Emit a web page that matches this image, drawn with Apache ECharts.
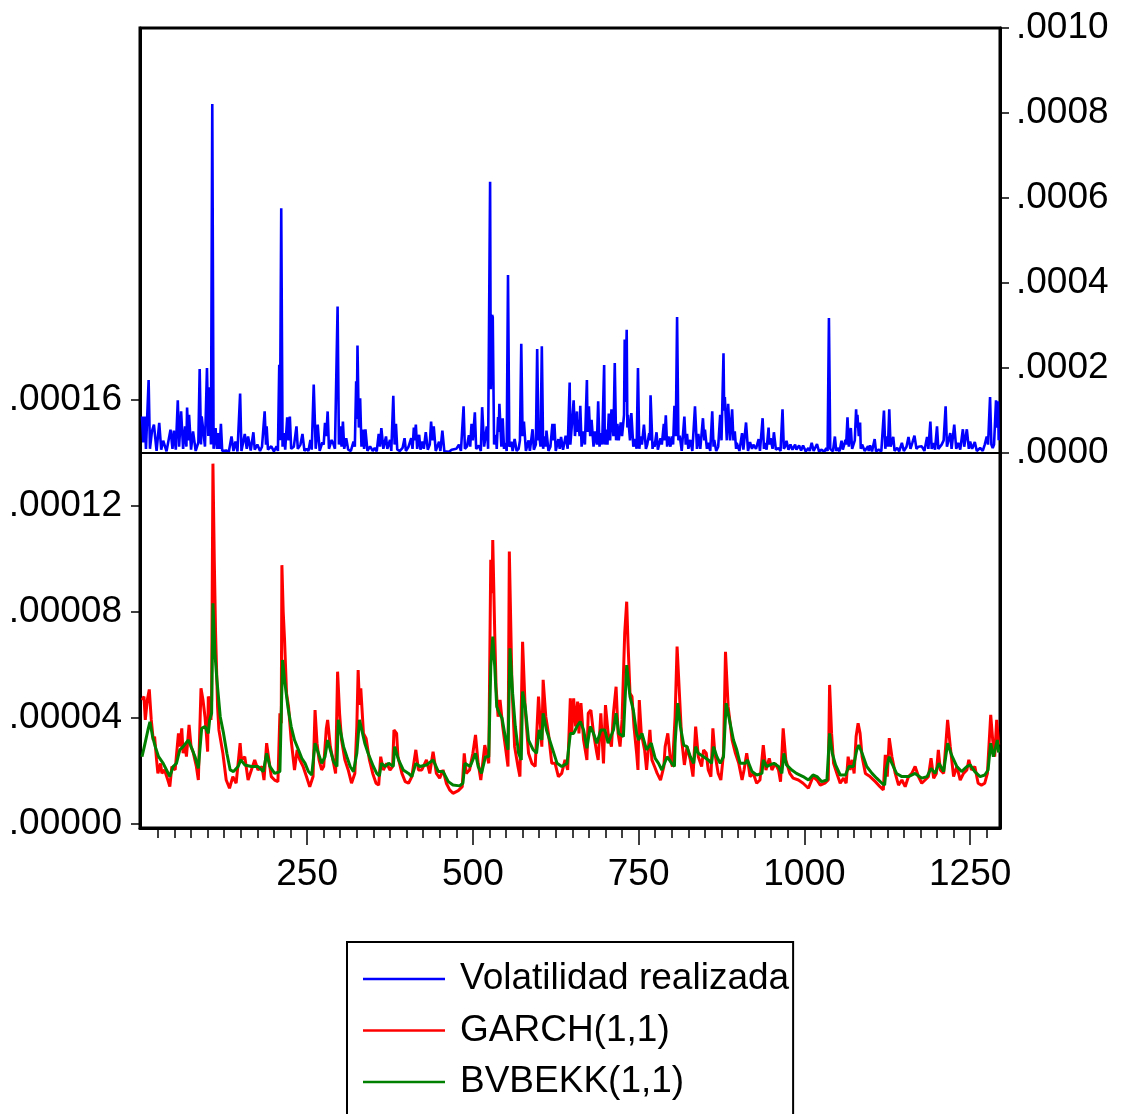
<!DOCTYPE html>
<html><head><meta charset="utf-8">
<script src="https://cdn.jsdelivr.net/npm/echarts@6/dist/echarts.min.js"></script>
<style>html,body{margin:0;padding:0;background:#fff}#c{width:1121px;height:1114px}</style>
</head><body><div id="c"></div>
<script>
// values in units of 1e-6 : [observation, value]
const U = 1e-6;
const volatilidad = [[1,86],[3,25],[5,86],[7,10],[11,172],[13,10],[16,51],[19,67],[23,5],[27,71],[30,8],[33,29],[38,4],[44,55],[47,10],[49,53],[52,8],[55,124],[57,15],[60,98],[63,10],[66,63],[68,15],[69,107],[71,30],[72,90],[75,8],[78,51],[82,5],[86,25],[88,198],[90,20],[91,86],[93,59],[96,15],[99,200],[101,40],[103,155],[105,20],[107,821],[109,10],[112,59],[114,10],[116,47],[118,10],[120,69],[122,5],[125,4],[128,6],[132,3],[136,39],[139,5],[142,27],[145,4],[149,140],[151,5],[156,45],[159,10],[161,39],[165,6],[169,49],[171,8],[175,20],[179,5],[182,15],[186,98],[188,20],[189,63],[191,8],[196,16],[200,4],[204,16],[206,5],[208,208],[209,30],[211,576],[213,15],[215,47],[217,8],[220,84],[222,30],[224,86],[226,10],[230,15],[234,63],[236,10],[240,20],[243,45],[246,5],[249,10],[252,5],[255,31],[257,8],[260,161],[263,10],[266,67],[269,5],[273,25],[275,20],[277,71],[279,40],[281,98],[283,10],[287,31],[290,20],[292,10],[296,345],[298,20],[300,63],[302,15],[304,74],[306,10],[309,35],[312,8],[316,5],[320,27],[322,15],[324,169],[325,80],[326,253],[328,60],[330,129],[332,15],[334,55],[336,10],[338,56],[341,5],[345,16],[349,5],[352,12],[355,4],[358,45],[360,15],[362,59],[365,10],[369,39],[371,10],[375,31],[377,5],[380,135],[382,20],[384,69],[386,8],[390,5],[394,12],[397,35],[399,5],[403,15],[407,35],[409,10],[411,60],[412,30],[414,67],[416,10],[419,43],[421,8],[424,27],[426,10],[429,49],[432,8],[435,20],[437,74],[439,30],[441,63],[444,5],[449,27],[451,5],[454,53],[457,4],[460,6],[464,3],[468,8],[471,4],[475,10],[479,20],[482,5],[486,110],[488,10],[491,15],[494,42],[496,15],[498,69],[500,30],[503,96],[505,10],[509,18],[512,5],[514,108],[517,15],[521,63],[523,10],[526,638],[527,150],[529,325],[530,320],[532,20],[535,43],[536,10],[538,85],[539,50],[540,116],[543,15],[545,82],[547,10],[549,24],[551,5],[553,419],[555,15],[558,27],[560,5],[563,33],[566,5],[569,10],[571,30],[573,257],[575,40],[577,74],[580,5],[584,30],[586,5],[590,56],[592,8],[595,20],[597,245],[599,30],[600,45],[602,15],[604,251],[606,10],[608,39],[610,15],[611,53],[614,5],[617,15],[620,69],[621,30],[623,69],[625,5],[629,33],[631,10],[633,38],[636,8],[640,41],[643,10],[646,166],[647,20],[649,60],[652,124],[654,40],[657,98],[658,50],[659,78],[661,40],[662,111],[664,15],[667,51],[669,20],[672,172],[673,50],[675,110],[677,40],[679,78],[682,15],[684,51],[687,20],[689,122],[691,15],[693,47],[695,20],[698,207],[699,20],[701,55],[703,20],[705,93],[707,30],[709,103],[712,40],[714,212],[716,30],[718,69],[720,30],[723,72],[725,40],[728,90],[729,267],[730,120],[732,290],[733,60],[734,90],[737,30],[739,94],[742,15],[744,33],[747,10],[749,200],[751,10],[753,39],[755,20],[758,67],[761,10],[763,20],[766,47],[767,30],[768,136],[771,10],[773,27],[774,15],[777,49],[779,8],[783,35],[785,20],[788,69],[789,30],[791,89],[793,15],[795,39],[798,15],[800,39],[802,20],[804,111],[806,40],[808,320],[810,30],[812,41],[815,5],[819,86],[821,20],[823,45],[825,10],[828,31],[831,5],[835,110],[838,10],[840,45],[843,10],[847,82],[849,30],[850,55],[853,10],[855,24],[858,5],[861,98],[863,15],[864,31],[867,5],[870,15],[873,90],[875,30],[878,235],[879,100],[880,132],[883,30],[885,116],[888,30],[891,103],[893,30],[895,51],[897,10],[898,24],[902,5],[906,47],[908,8],[912,72],[915,5],[918,26],[921,10],[923,20],[927,10],[931,33],[933,5],[937,82],[939,10],[941,24],[943,8],[946,60],[947,20],[949,35],[952,10],[954,49],[957,8],[961,12],[964,5],[967,103],[969,10],[971,16],[973,29],[976,8],[979,20],[982,8],[986,20],[988,8],[992,18],[995,6],[998,18],[1002,4],[1006,12],[1008,5],[1011,24],[1014,5],[1019,21],[1022,4],[1026,8],[1030,3],[1033,12],[1035,5],[1037,318],[1039,10],[1041,12],[1043,4],[1046,39],[1048,5],[1050,12],[1053,4],[1056,29],[1058,8],[1062,31],[1063,20],[1065,84],[1067,15],[1070,59],[1072,10],[1074,20],[1076,30],[1078,103],[1079,60],[1080,90],[1082,40],[1084,72],[1085,10],[1087,20],[1091,5],[1096,16],[1097,5],[1099,18],[1102,4],[1106,33],[1108,4],[1112,8],[1116,4],[1120,100],[1122,10],[1124,39],[1126,15],[1128,103],[1130,15],[1134,38],[1136,5],[1140,12],[1143,4],[1147,24],[1150,5],[1154,15],[1157,38],[1160,10],[1163,25],[1166,41],[1169,10],[1172,15],[1177,16],[1181,5],[1185,38],[1187,10],[1190,74],[1192,10],[1195,24],[1197,8],[1200,63],[1202,10],[1205,12],[1207,20],[1210,30],[1213,110],[1215,15],[1220,47],[1222,10],[1226,67],[1229,10],[1232,24],[1235,8],[1239,56],[1241,15],[1245,56],[1248,10],[1250,27],[1253,10],[1257,26],[1260,5],[1265,12],[1269,5],[1272,20],[1275,39],[1277,20],[1280,132],[1282,20],[1284,12],[1286,20],[1289,124],[1290,60],[1292,122],[1293,30]];
const garch = [[1,46.8],[4,48.1],[6,39.3],[9,46.8],[12,50.8],[15,39.3],[18,31.7],[20,33],[23,24.2],[25,19.1],[29,22.9],[31,19.1],[35,20.4],[40,16.6],[43,14.1],[46,21.7],[51,20.4],[56,34.2],[58,29.2],[61,36.1],[63,26.7],[66,30.5],[68,25.4],[72,37.4],[75,29.2],[78,27.3],[83,21.7],[86,16.6],[88,16.6],[90,51.2],[93,46.8],[96,40.5],[98,34.2],[100,27.3],[101,48.1],[103,46.8],[105,39.3],[106,47],[108,136],[110,100],[112,72],[115,44.3],[117,35.5],[120,35.5],[123,26.7],[128,16.6],[133,13.5],[138,17.9],[143,15.4],[149,30.5],[151,24.2],[156,25.4],[161,16.6],[166,20.4],[171,24.2],[176,20.4],[182,21.7],[185,16.6],[189,30.5],[191,26.7],[196,17.9],[201,16.6],[206,16],[209,41.8],[211,38],[212,97.7],[214,80],[216,69.5],[219,49.3],[222,44.3],[226,31.7],[231,20.4],[235,28],[239,24.2],[244,21.7],[249,17.9],[254,14.1],[259,17.9],[262,43],[265,30.5],[268,24.2],[272,20.4],[275,21.7],[279,36.1],[281,39.3],[285,29.2],[289,24.2],[293,19.1],[296,57.5],[299,41.8],[302,31.7],[307,24.2],[312,20.4],[317,15.4],[322,19.1],[325,36.8],[327,58.1],[329,45],[331,51.2],[335,34.2],[339,32.3],[344,24.2],[349,19.1],[354,15.4],[358,14.7],[361,25.4],[365,20.4],[370,22.9],[375,20.4],[379,21.7],[381,35.5],[385,34.2],[387,25.4],[393,19.1],[398,16],[403,15.4],[408,17.9],[414,28],[418,20.4],[423,20.4],[430,24.2],[435,19.1],[440,27.3],[445,19.1],[450,17.3],[455,20.4],[460,15.4],[465,12.9],[470,11.6],[478,12.6],[484,14.1],[487,26.7],[490,19.1],[495,20.4],[500,26.7],[504,33.6],[508,22.9],[512,16.6],[515,16],[518,29.8],[521,29.2],[524,22.9],[527,99.7],[529,87.1],[530,107.2],[533,72],[535,51.8],[538,40.5],[541,46.8],[545,36.8],[549,29.2],[553,21.7],[555,102.8],[559,51.8],[563,29.2],[568,21.7],[571,17.9],[575,68.8],[579,43],[584,26.7],[589,22.9],[594,21.7],[599,48.1],[601,40.5],[604,29.2],[606,54.4],[610,40.5],[614,34.2],[619,22.9],[624,22.9],[629,17.9],[634,19.1],[639,24.2],[643,20.4],[647,47.4],[649,34.2],[652,47.4],[655,36.8],[658,46.2],[660,34.2],[663,45.6],[667,31.7],[672,24.2],[674,41.8],[678,43],[682,34.2],[687,26.7],[689,24.2],[693,41.8],[697,22.9],[700,44.9],[704,34.2],[709,29.2],[712,41.8],[716,51.8],[719,34.2],[722,29.2],[725,39.3],[729,72],[732,83.9],[734,68.2],[737,49.3],[740,48.1],[743,36.8],[747,26.7],[749,20.4],[751,46.8],[754,34.2],[759,28],[762,20.4],[767,35.5],[770,24.2],[774,21.7],[778,19.1],[783,16.6],[788,21.7],[790,29.2],[794,34.2],[798,24.2],[801,21.7],[805,40.5],[808,67],[812,46.8],[815,31.7],[819,22.3],[823,29.2],[828,24.2],[832,17.9],[836,36.8],[840,25.4],[845,21.7],[848,28],[852,26.7],[855,20.4],[859,17.9],[862,36.1],[865,26.7],[870,19.1],[874,16.6],[878,26.7],[881,65],[885,44.3],[888,44.3],[891,31.7],[896,26.7],[901,22.9],[906,16.6],[909,20.4],[913,26.7],[918,17.9],[923,19.1],[928,15.4],[933,16.6],[938,29.8],[942,20.4],[947,24.8],[951,20.4],[956,22.9],[961,20.4],[964,16],[968,36.1],[972,24.2],[978,19.1],[983,17.3],[991,16.6],[998,15.4],[1006,13.5],[1013,17.9],[1019,16.6],[1024,14.7],[1031,15.4],[1036,16.6],[1038,52.5],[1041,34.2],[1044,22.9],[1049,19.1],[1054,15.4],[1059,17.3],[1063,15.4],[1066,25.4],[1069,20.4],[1072,24.2],[1075,19.1],[1078,33],[1081,38],[1084,34.2],[1087,25.4],[1092,19.1],[1099,17.9],[1107,16],[1114,14.1],[1119,12.9],[1122,26.1],[1125,17.9],[1128,32.4],[1132,25.4],[1137,19.1],[1142,14.7],[1147,16.6],[1152,14.1],[1157,17.9],[1162,19.1],[1167,21.7],[1172,17.9],[1177,15.4],[1182,16.6],[1187,17.9],[1191,24.8],[1195,17.3],[1199,19.1],[1202,28],[1205,20.4],[1210,19.1],[1216,39.3],[1220,29.2],[1225,17.9],[1230,21.7],[1235,16.6],[1240,19.1],[1245,20.4],[1248,24.2],[1252,20.4],[1257,21.7],[1262,15.4],[1267,14.7],[1272,15.4],[1276,19.1],[1281,41.2],[1284,31.7],[1287,25.4],[1290,39.3],[1293,30]];
const bvbekk = [[1,25.4],[5,29.8],[10,35.5],[13,38.6],[17,33],[21,29.2],[26,25.4],[28,25.4],[33,22.9],[38,20.4],[43,17.9],[48,21.7],[53,22.9],[58,28],[63,29.2],[71,31.7],[76,28.6],[81,25.4],[86,21],[89,20.7],[91,36.1],[96,36.8],[101,34.2],[103,39.3],[106,41.8],[108,83.3],[111,64.4],[114,54.4],[119,40.5],[124,34.2],[129,26.7],[134,20.4],[139,19.8],[146,21.7],[150,24.2],[156,22.3],[166,21.7],[176,21.7],[184,19.8],[189,26.7],[194,21.7],[201,19.1],[209,19.8],[210,30.5],[213,61.9],[216,54.4],[221,44.3],[226,36.8],[231,31.7],[237,28],[242,24.8],[247,22.9],[252,19.8],[257,18.5],[259,18.5],[262,30.5],[267,26.7],[272,22.9],[277,25.4],[281,31.7],[285,28],[290,23.5],[295,21.7],[297,39.3],[301,34.2],[305,29.2],[310,25.4],[315,21.7],[320,19.8],[325,26.7],[329,39.3],[332,39.3],[337,30.5],[342,26.7],[350,21.7],[355,19.1],[359,18.1],[362,22.9],[368,21.7],[373,22.9],[380,21.7],[382,29.2],[388,24.2],[395,20.4],[403,19.1],[408,17.9],[414,22.9],[420,21.7],[430,22.3],[440,24.2],[448,19.8],[455,19.8],[463,16],[470,14.7],[480,14.4],[485,15.4],[488,22.9],[496,21.7],[504,26.7],[508,21.7],[513,19.1],[519,25.4],[524,25.4],[527,59.4],[530,70.7],[533,59.4],[536,44.3],[540,41.8],[544,39.9],[548,34.2],[553,28],[556,66.3],[560,49.3],[564,36.8],[569,26.7],[573,24.2],[575,50],[579,44.3],[584,31.7],[591,28],[596,26.7],[600,35.5],[604,31.7],[606,41.8],[611,35.5],[619,29.2],[627,22.9],[634,21.7],[642,22.9],[647,34.2],[652,34.2],[657,36.8],[662,38.7],[667,35.5],[672,28.6],[677,36.8],[682,34.2],[687,30.5],[693,35.5],[699,35.5],[704,30.5],[712,35.5],[716,41.8],[720,34.2],[727,33],[732,60],[737,48.1],[742,43],[747,34.2],[750,31.7],[755,34.2],[762,28],[769,30.5],[775,24.8],[780,22.9],[785,20.4],[793,25.4],[800,22.9],[804,21.7],[805,30.5],[809,45.6],[813,36.8],[818,29.8],[823,29.2],[828,25.4],[833,22.9],[836,29.2],[840,26.7],[848,25.4],[855,24.2],[860,22.9],[863,29.2],[868,25.4],[873,22.9],[878,25.4],[882,45.6],[887,39.3],[893,31.7],[898,28],[903,22.9],[911,22.9],[914,24.2],[921,19.8],[928,18.5],[936,19.1],[938,24.2],[943,21.7],[948,22.3],[954,22.9],[961,21.7],[966,19.1],[969,26.7],[973,22.3],[981,20.4],[988,19.1],[998,17.9],[1006,16.6],[1013,18.5],[1019,17.9],[1026,16],[1034,16.6],[1038,34.2],[1042,26.7],[1047,22.3],[1054,18.5],[1062,18.5],[1067,21.7],[1074,21.7],[1079,28],[1082,29.8],[1087,26.7],[1094,21.7],[1102,19.1],[1109,17.3],[1117,15.4],[1121,14.7],[1123,20.4],[1128,25.4],[1132,22.9],[1139,19.1],[1147,17.9],[1157,17.9],[1167,19.1],[1177,17.3],[1185,17.9],[1191,21],[1197,19.1],[1203,22.9],[1210,19.8],[1216,30.5],[1222,26],[1230,21.7],[1237,19.8],[1245,21.7],[1250,22.3],[1257,19.8],[1265,17.9],[1272,18.5],[1277,20.4],[1281,30.5],[1285,25.4],[1288,25.4],[1291,31.7],[1293,27]];

const seriesNames = ['Volatilidad realizada', 'GARCH(1,1)', 'BVBEKK(1,1)'];
const xTickLabels = [250, 500, 750, 1000, 1250];
const leftTicks = [0, 0.00004, 0.00008, 0.00012, 0.00016];
const rightTicks = [0, 0.0002, 0.0004, 0.0006, 0.0008, 0.0010];
const minorTicks = [];
for (let t = 25; t <= 1275; t += 25) minorTicks.push(t);

const FONT = '"Liberation Sans", Arial, sans-serif';
const FS = 37;
const scale = arr => arr.map(p => [p[0], p[1] * U]);
const fmt = d => v => v.toFixed(d).replace(/^0/, '');
const black = {color: '#000', width: 1.5};

const chart = echarts.init(document.getElementById('c'));
chart.setOption({
  animation: false,
  grid: {left: 140, right: 121, top: 28, bottom: 286, show: true, borderColor: '#000', borderWidth: 3,
         containLabel: false, outerBoundsMode: 'none'},
  legend: {
    data: seriesNames, orient: 'vertical', left: 347, top: 942, height: 170,
    padding: [15, 4, 20, 16], borderColor: '#000', borderWidth: 2,
    icon: 'rect', itemWidth: 82, itemHeight: 2.5, itemGap: 7.5,
    textStyle: {fontSize: FS, fontFamily: FONT, color: '#000', lineHeight: 44, padding: [0, 0, 0, 10]}
  },
  xAxis: [
    {type: 'value', min: -2, max: 1295,
     axisLine: {show: true, onZero: false, lineStyle: {color: '#000', width: 3}},
     axisTick: {show: true, length: 10, customValues: minorTicks, lineStyle: black},
     axisLabel: {show: false}, splitLine: {show: false}},
    {type: 'value', min: -2, max: 1295, position: 'bottom',
     axisLine: {show: false, onZero: false},
     axisTick: {show: true, length: 17, customValues: xTickLabels, lineStyle: black},
     axisLabel: {show: true, customValues: xTickLabels, formatter: v => String(v),
                 fontSize: FS, fontFamily: FONT, color: '#000', margin: 28},
     splitLine: {show: false}}
  ],
  yAxis: [
    {type: 'value', min: -0.0000015, max: 0.0003004, position: 'left',
     axisLine: {show: true, onZero: false, lineStyle: {color: '#000', width: 3}},
     axisTick: {show: true, length: 9, customValues: leftTicks, lineStyle: black},
     axisLabel: {show: true, customValues: leftTicks, formatter: fmt(5), fontSize: FS, fontFamily: FONT, color: '#000', margin: 18},
     splitLine: {show: false}},
    {type: 'value', min: -0.000882, max: 0.0010, position: 'right',
     axisLine: {show: true, onZero: false, lineStyle: {color: '#000', width: 3}},
     axisTick: {show: true, length: 9, customValues: rightTicks, lineStyle: black},
     axisLabel: {show: true, customValues: rightTicks, formatter: fmt(4), fontSize: FS, fontFamily: FONT, color: '#000', margin: 16},
     splitLine: {show: false}}
  ],
  series: [
    {name: seriesNames[0], type: 'line', xAxisIndex: 0, yAxisIndex: 1, data: scale(volatilidad),
     symbol: 'none', color: '#0000ff', lineStyle: {width: 2.6, color: '#0000ff'}, z: 3,
     markLine: {silent: true, symbol: 'none', label: {show: false},
                lineStyle: {color: '#000', width: 2, type: 'solid'}, data: [{yAxis: 0}]}},
    {name: seriesNames[1], type: 'line', xAxisIndex: 0, yAxisIndex: 0, data: scale(garch),
     symbol: 'none', color: '#ff0000', lineStyle: {width: 3, color: '#ff0000'}, z: 2},
    {name: seriesNames[2], type: 'line', xAxisIndex: 0, yAxisIndex: 0, data: scale(bvbekk),
     symbol: 'none', color: '#008000', lineStyle: {width: 3, color: '#008000'}, z: 2}
  ]
});
</script></body></html>
